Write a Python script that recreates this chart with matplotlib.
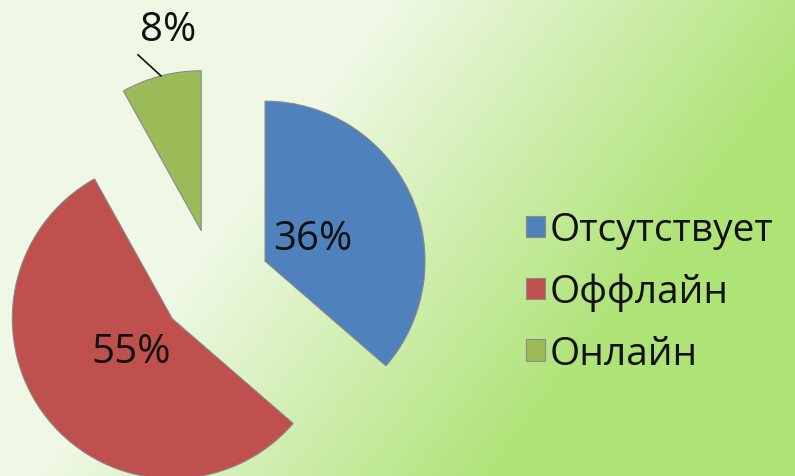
import numpy as np
import matplotlib
matplotlib.use("Agg")
import matplotlib.pyplot as plt
from matplotlib.colors import to_rgb

plt.rcParams['font.family'] = ['Open Sans', 'DejaVu Sans']

# данные
categories = ["Отсутствует", "Оффлайн", "Онлайн"]
values = [36, 55, 8]
colors = ["#4F81BD", "#C0504D", "#9BBB59"]

W, H = 795, 477
fig = plt.figure(figsize=(W / 100, H / 100), dpi=100)
ax = fig.add_axes([0, 0, 1, 1])

# фон: градиент от бледного к зелёному (строка 0 - верх картинки)
yy, xx = np.mgrid[0:H, 0:W]
t = np.clip((xx + 0.75 * yy - 400) / 460, 0, 1)
c0 = np.array(to_rgb("#EFF8E4"))
c1 = np.array(to_rgb("#AEE376"))
bg = c0 + (c1 - c0) * t[..., None]
ax.imshow(bg, extent=(0, W, 0, H), origin="upper", aspect="auto", zorder=0)

# круговая диаграмма
R = 160
wedges, texts, autotexts = ax.pie(
    values, colors=colors, startangle=90, counterclock=False,
    radius=R, center=(215, 192), explode=[55] * len(values),
    autopct=lambda p: "%d%%" % round(p * sum(values) / 100),
    pctdistance=0.33,
    wedgeprops=dict(edgecolor="#8a8a8a", linewidth=0.8),
    textprops=dict(fontsize=29, color="#111111"),
)

# подпись зелёного сектора вынесена наружу
g = wedges[2]
thm = np.deg2rad((g.theta1 + g.theta2) / 2)
ax_pt = (g.center[0] + R * np.cos(thm), g.center[1] + R * np.sin(thm))
ax.plot([ax_pt[0], ax_pt[0] - 23], [ax_pt[1], ax_pt[1] + 21], color="#111111", lw=1.2)
autotexts[2].set_position((ax_pt[0] + 7, ax_pt[1] + 46))
autotexts[2].set_va("center")

ax.set_xlim(0, W)
ax.set_ylim(0, H)
ax.set_aspect("auto")
ax.axis("off")

leg = ax.legend(wedges, categories, loc="center left",
                bbox_to_anchor=(526 / W, 1 - 293 / H), frameon=False,
                fontsize=28, handlelength=0.48, handleheight=0.48,
                handletextpad=0.12, labelspacing=0.6, borderpad=0,
                borderaxespad=0)
for t_ in leg.get_texts():
    t_.set_color("#111111")

fig.savefig("out.png", dpi=100)
